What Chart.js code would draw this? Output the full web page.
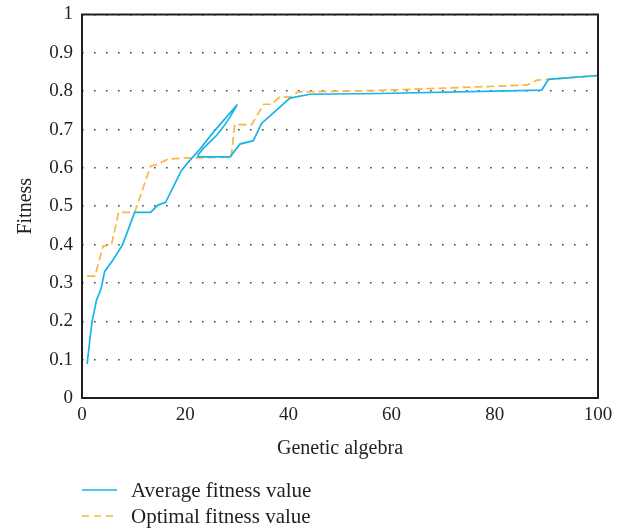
<!DOCTYPE html>
<html>
<head>
<meta charset="utf-8">
<script src="https://cdn.jsdelivr.net/npm/chart.js@4/dist/chart.umd.min.js"></script>
<style>
  html, body { margin: 0; padding: 0; background: #fff; }
  #wrap { position: relative; width: 626px; height: 531px; }
  canvas { position: absolute; left: 0; top: 0; }
  .leg { position: absolute; left: 82px; font-family: "Liberation Serif", serif; font-size: 21px; color: #231f20; white-space: nowrap; }
  .leg svg { position: absolute; left: 0; top: 0; }
  .leg span { position: absolute; left: 49px; top: -12px; line-height: 24px; }
</style>
</head>
<body>
<div id="wrap">
  <canvas id="c" width="626" height="531"></canvas>
  <div class="leg" style="top:490px;">
    <svg width="40" height="4" style="top:-2px"><line x1="0" y1="2" x2="35" y2="2" stroke="#16b4ea" stroke-width="1.6"/></svg>
    <span>Average fitness value</span>
  </div>
  <div class="leg" style="top:516px;">
    <svg width="40" height="4" style="top:-2px"><line x1="0" y1="2" x2="35" y2="2" stroke="#fbb63f" stroke-width="1.6" stroke-dasharray="7,5"/></svg>
    <span>Optimal fitness value</span>
  </div>
</div>
<script>
// Average fitness value (blue, solid) - path order as drawn
const avgX = [1, 1.5, 1.94, 2.8, 3.7, 4.4, 6.0, 7.8, 8.9, 10.2, 13.3, 14.7, 16.2, 18.6, 19.2, 20.6, 22.9, 25.5, 30.1, 28.7, 27.4, 26.1, 24.8, 23.5, 22.6, 22.5, 28.7, 30.6, 33.2, 34.8, 40.3, 44.2, 57.8, 89.1, 90.4, 100];
const avgY = [0.089, 0.15, 0.198, 0.255, 0.285, 0.33, 0.36, 0.398, 0.437, 0.484, 0.484, 0.503, 0.51, 0.575, 0.592, 0.615, 0.65, 0.694, 0.765, 0.733, 0.707, 0.685, 0.668, 0.651, 0.636, 0.629, 0.629, 0.662, 0.671, 0.716, 0.782, 0.792, 0.794, 0.803, 0.831, 0.841];
// Optimal fitness value (orange, dashed)
const optX = [1, 2.5, 4.1, 5.7, 7.1, 10.2, 13.3, 14.4, 16.7, 20.6, 28.9, 29.6, 32.9, 35.2, 36.8, 38.2, 40.3, 41.9, 57.8, 86.2, 88.2, 90.4, 100];
const optY = [0.318, 0.318, 0.396, 0.399, 0.484, 0.484, 0.605, 0.608, 0.623, 0.626, 0.628, 0.713, 0.713, 0.766, 0.766, 0.784, 0.785, 0.798, 0.802, 0.816, 0.829, 0.831, 0.841];
const xTicks = [0, 20, 40, 60, 80, 100];
const yTicks = [0, 0.1, 0.2, 0.3, 0.4, 0.5, 0.6, 0.7, 0.8, 0.9, 1];

const zip = (xs, ys) => xs.map((x, i) => ({ x: x, y: ys[i] }));
const FONT = "'Liberation Serif', serif";
const TXT = '#231f20';

const frame = {
  id: 'frame',
  afterDatasetsDraw(chart) {
    const a = chart.chartArea, ctx = chart.ctx;
    ctx.save();
    ctx.strokeStyle = '#231f20';
    ctx.lineWidth = 2;
    ctx.strokeRect(a.left, a.top, a.right - a.left, a.bottom - a.top);
    ctx.restore();
  }
};

new Chart(document.getElementById('c'), {
  type: 'scatter',
  data: {
    datasets: [
      { label: 'Average fitness value', data: zip(avgX, avgY), showLine: true, borderColor: '#16b4ea', borderWidth: 1.7, pointRadius: 0, tension: 0, order: 1 },
      { label: 'Optimal fitness value', data: zip(optX, optY), showLine: true, borderColor: '#fbb63f', borderWidth: 1.7, borderDash: [8, 4], pointRadius: 0, tension: 0, order: 2 }
    ]
  },
  options: {
    responsive: false,
    animation: false,
    layout: { padding: { left: 14, right: 28, top: 14.5, bottom: 70 } },
    plugins: { legend: { display: false }, tooltip: { enabled: false } },
    scales: {
      x: {
        type: 'linear', min: 0, max: 100,
        afterBuildTicks: s => { s.ticks = xTicks.map(v => ({ value: v })); },
        ticks: { font: { family: FONT, size: 19 }, color: TXT, padding: 6, maxRotation: 0 },
        grid: { display: false, drawTicks: false },
        border: { display: false },
        title: { display: true, text: 'Genetic algebra', font: { family: FONT, size: 20 }, color: TXT, padding: { top: 6, bottom: 0 } },
        afterFit: s => { s.height = 63; s.paddingLeft = 0; s.paddingRight = 0; }
      },
      y: {
        type: 'linear', min: 0, max: 1,
        afterBuildTicks: s => { s.ticks = yTicks.map(v => ({ value: v })); },
        ticks: { font: { family: FONT, size: 19 }, color: TXT, padding: 9, callback: v => String(v) },
        grid: { color: '#444', lineWidth: 1.6, drawTicks: false },
        border: { display: false, dash: [1.6, 10.4] },
        title: { display: true, text: 'Fitness', font: { family: FONT, size: 20 }, color: TXT, padding: { top: 0, bottom: 6 } },
        afterFit: s => { s.width = 68; s.paddingTop = 0; s.paddingBottom = 0; }
      }
    }
  },
  plugins: [frame]
});
</script>
</body>
</html>
